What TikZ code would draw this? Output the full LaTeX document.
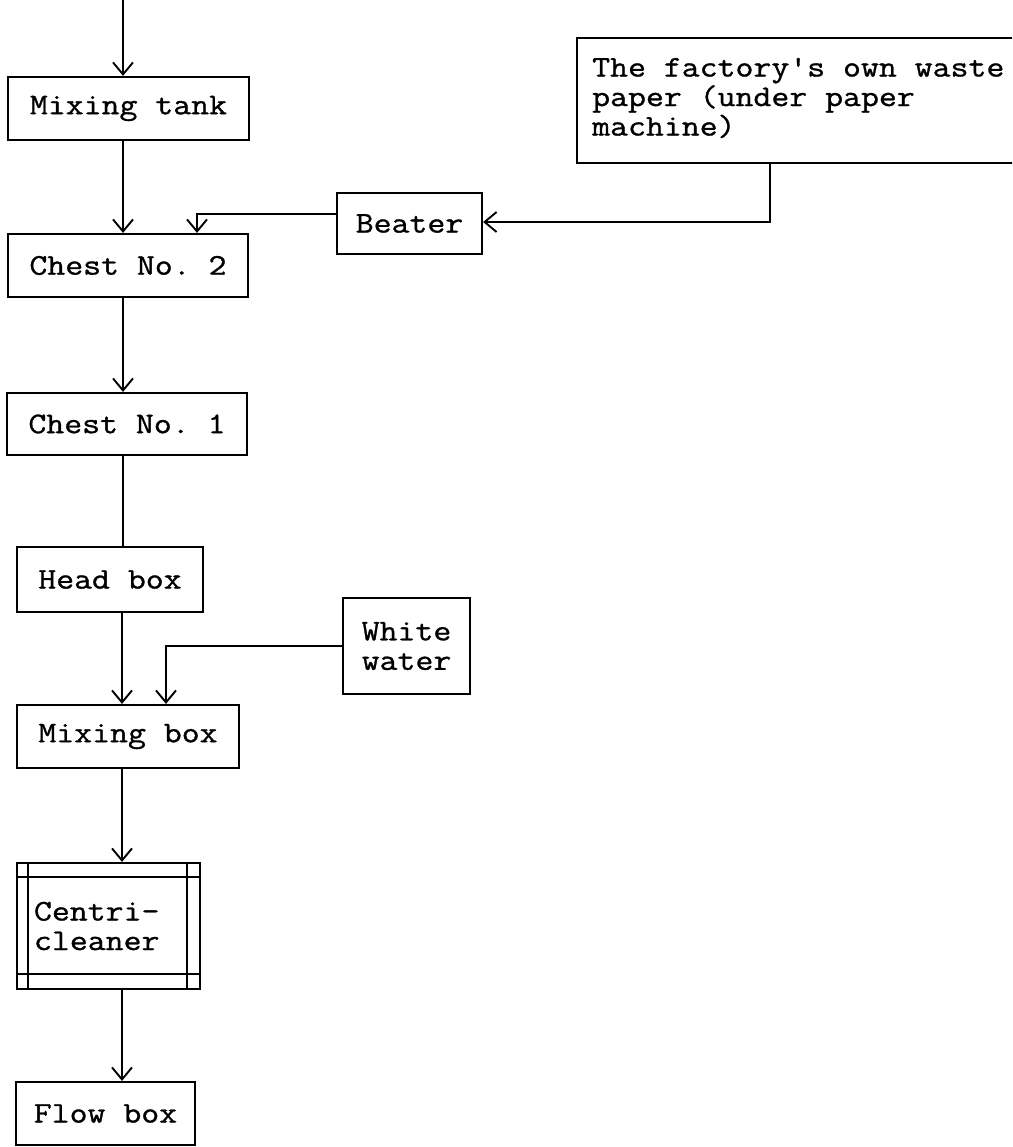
\documentclass[tikz,border=0pt]{standalone}
\usepackage{fontspec}
\setmonofont{Latin Modern Mono}[FakeStretch=1.16, FakeBold=1, Ligatures=TeXOff]
\usetikzlibrary{arrows.meta}
% typewriter lettering with a fixed line pitch
\newcommand\typefont{\ttfamily\fontsize{30pt}{29.5pt}\selectfont\lineskiplimit=-50pt\relax}
\begin{document}
\begin{tikzpicture}[x=1pt,y=-1pt,
  every node/.style={font=\typefont, inner sep=0pt},
  stage/.style={draw, line width=2.2pt, rectangle},
  flow/.style={line width=2.2pt, -{Straight Barb[length=12pt,width=20pt,line width=1.9pt]}},
  plain/.style={line width=2.2pt}]
  \clip (0,0) rectangle (1012,1147);
  \fill[white] (0,0) rectangle (1012,1147);

  % main line of stock preparation
  \node[stage, minimum width=241pt, minimum height=63pt] (mt) at (128.5,108.5) {Mixing tank};
  \node[stage, minimum width=240pt, minimum height=63pt] (c2) at (128,265.5) {Chest No. 2};
  \node[stage, minimum width=240pt, minimum height=62pt] (c1) at (127,424) {Chest No. 1};
  \node[stage, minimum width=186pt, minimum height=65pt] (hb) at (110,579.5) {Head box};
  \node[stage, minimum width=222pt, minimum height=63pt] (mb) at (128,736.5) {Mixing box};
  \node[stage, minimum width=183pt, minimum height=126pt, text width=149pt, inner xsep=17pt, align=left] (cc) at (108.5,926) {Centri-\\cleaner};
  \node[stage, minimum width=179pt, minimum height=63pt] (fb) at (105.5,1113.5) {Flow box};

  % side streams
  \node[stage, minimum width=145pt, minimum height=61pt] (bt) at (409.5,223.5) {Beater};
  \node[stage, minimum width=127pt, minimum height=96pt, align=center] (ww) at (406.5,646) {White\\water};
  \node[stage, minimum width=460pt, minimum height=125pt] (fac) at (807,100.5) {};
  \node[anchor=west, align=left] (factxt) at (592,98) {The factory's own waste\\paper (under paper\\machine)};

  % inner frame of the centri-cleaner
  \draw[line width=1.5pt] ([xshift=12pt]cc.north west) -- ([xshift=12pt]cc.south west)
        ([xshift=-14pt]cc.north east) -- ([xshift=-14pt]cc.south east)
        ([yshift=-15pt]cc.north west) -- ([yshift=-15pt]cc.north east)
        ([yshift=16pt]cc.south west) -- ([yshift=16pt]cc.south east);

  % connectors
  \coordinate (feed) at (123,0);
  \coordinate (spine) at (123,0);
  \coordinate (lowspine) at (122,0);
  \coordinate (btdrop) at (197,0);
  \coordinate (wwdrop) at (166,0);
  \coordinate (facdrop) at (770,0);

  \draw[flow] (feed) -- (spine |- mt.north);
  \draw[flow] (spine |- mt.south) -- (spine |- c2.north);
  \draw[flow] (spine |- c2.south) -- (spine |- c1.north);
  \draw[plain] (spine |- c1.south) -- (spine |- hb.north);
  \draw[flow] (lowspine |- hb.south) -- (lowspine |- mb.north);
  \draw[flow] (lowspine |- mb.south) -- (lowspine |- cc.north);
  \draw[flow] (lowspine |- cc.south) -- (lowspine |- fb.north);

  \draw[flow] (facdrop |- fac.south) |- ([yshift=1.5pt]bt.east);
  \draw[flow] ([yshift=9.5pt]bt.west) -| (btdrop |- c2.north);
  \draw[flow] (ww.west) -| (wwdrop |- mb.north);
\end{tikzpicture}
\end{document}
